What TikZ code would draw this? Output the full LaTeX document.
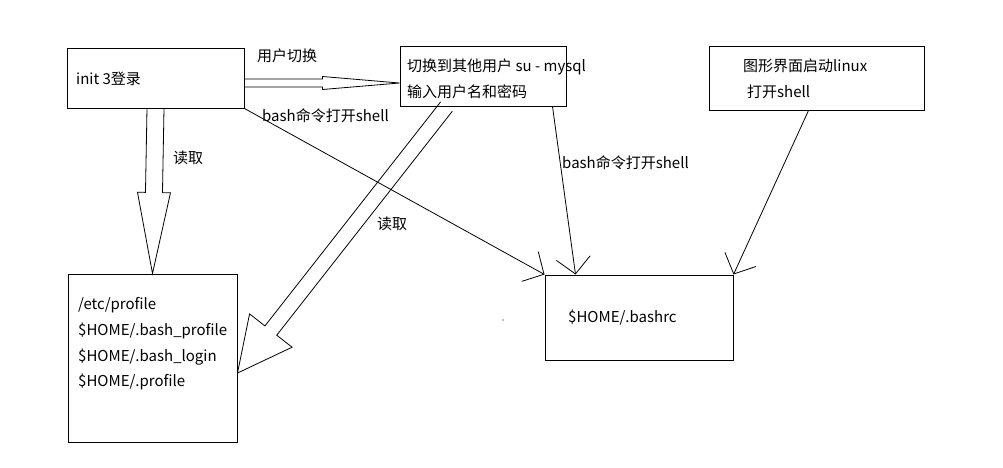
\documentclass[tikz,border=0pt]{standalone}
\usepackage{fontspec}
\setmainfont{Noto Sans CJK SC}
\usetikzlibrary{calc,arrows.meta}

\tikzset{
  box/.style={draw, line width=1pt, inner sep=0pt},
  txt/.style={anchor=west, inner sep=0pt, font=\fontsize{15pt}{18pt}\selectfont},
  openarrow/.style={line width=0.8pt, -{Straight Barb[length=16pt,width=34pt]}},
}
% hollow block arrow: from, to, half shaft, half head, head length
\newcommand{\blockarrow}[5]{%
  \coordinate (ba) at ($(#2)!#5!(#1)$);
  \draw[line width=0.8pt] ($(#1)!#3!90:(#2)$) -- ($(ba)!#3!-90:(#1)$)
    -- ($(ba)!#4!-90:(#1)$) -- (#2) -- ($(ba)!#4!90:(#1)$)
    -- ($(ba)!#3!90:(#1)$) -- ($(#1)!#3!-90:(#2)$);
}

\begin{document}
\begin{tikzpicture}[x=1pt,y=-1pt]
    \useasboundingbox (0,0) rectangle (1003,467);
    \node[box, minimum width=177pt, minimum height=60pt] (init) at (155.5,78) {};
    \node[box, minimum width=166pt, minimum height=60pt] (su) at (483,76) {};
    \node[box, minimum width=215pt, minimum height=64pt] (gui) at (816.5,78) {};
    \node[box, minimum width=169pt, minimum height=168pt] (profile) at (152.5,358) {};
    \node[box, minimum width=188pt, minimum height=85pt] (bashrc) at (639,317.5) {};

    \node[txt] (initT) at (76,79) {init 3登录};
    \node[txt] (suT1) at (407,67) {切换到其他用户 su - mysql};
    \node[txt] (suT2) at (407,92) {输入用户名和密码};
    \node[txt] (guiT1) at (743,66) {图形界面启动linux};
    \node[txt] (guiT2) at (747,92) {打开shell};
    \node[txt] (bashrcT) at (568,318) {\$HOME/.bashrc};
    \node[txt] (pr1) at (78,305) {/etc/profile};
    \node[txt] (pr2) at (78,331) {\$HOME/.bash\_profile};
    \node[txt] (pr3) at (78,357) {\$HOME/.bash\_login};
    \node[txt] (pr4) at (78,382) {\$HOME/.profile};

    \coordinate (a1) at ([yshift=-5pt]init.east);
    \coordinate (b1) at (su.west |- a1);
    \blockarrow{a1}{b1}{4pt}{6.5pt}{77pt}
    \node[txt] (switchL) at (257,56) {用户切换};

    \blockarrow{init.south}{profile.north}{8.5pt}{16.5pt}{81pt}
    \node[txt] (readL1) at (173,158) {读取};

    \coordinate (a3) at ([xshift=47pt]su.south west);
    \coordinate (b3) at ($(profile.north east)!0.589!(profile.south east)$);
    \blockarrow{a3}{b3}{7.5pt}{27pt}{54pt}
    \node[txt] (readL2) at (377,224) {读取};

    \draw[openarrow] (init.south east) -- (bashrc.north west);
    \node[txt] (bashL1) at (262,116) {bash命令打开shell};

    \coordinate (c2) at ([xshift=-14pt]su.south east);
    \coordinate (d2) at ([xshift=31pt]bashrc.north west);
    \draw[openarrow] (c2) -- (d2);
    \node[txt] (bashL2) at (562,163) {bash命令打开shell};

    \coordinate (c3) at ([xshift=-8pt]gui.south);
    \draw[openarrow] (c3) -- (bashrc.north east);

    \fill (503,320) circle (0.7);
\end{tikzpicture}
\end{document}
